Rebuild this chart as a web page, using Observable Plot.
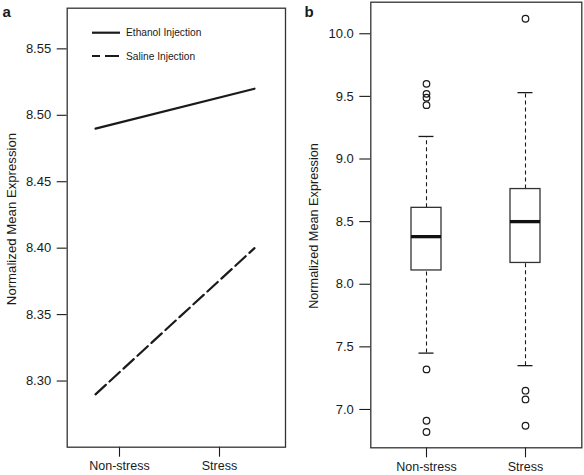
<!DOCTYPE html>
<html><head><meta charset="utf-8">
<script src="https://cdn.jsdelivr.net/npm/d3@7"></script>
<script src="https://cdn.jsdelivr.net/npm/@observablehq/plot@0.6"></script>
<style>
body{margin:0;background:#fff;}
#wrap{position:relative;width:584px;height:475px;display:flex;}
#wrap > svg{display:block;flex:none;}
.overlay{position:absolute;left:0;top:0;pointer-events:none;}
</style>
</head><body><div id="wrap"></div>
<script>
// ---- data ----
const categories = ["Non-stress", "Stress"];
const seriesNames = ["Ethanol Injection", "Saline Injection"];
const ethanolMeans = [8.49, 8.52];
const salineMeans = [8.29, 8.40];
const linePositions = [0.76, 2.35];   // x positions of line end points (category index units)
const categoryPositions = [1, 2];
const yTicksA = [8.30, 8.35, 8.40, 8.45, 8.50, 8.55];
const yTicksB = [7.0, 7.5, 8.0, 8.5, 9.0, 9.5, 10.0];
const boxLowWhisker = [7.45, 7.35];
const boxQ1 = [8.11, 8.17];
const boxMedian = [8.38, 8.50];
const boxQ3 = [8.61, 8.76];
const boxHighWhisker = [9.18, 9.53];
const outliersNonStress = [9.60, 9.52, 9.49, 9.43, 7.32, 6.91, 6.82];
const outliersStress = [10.12, 7.15, 7.08, 6.87];
const yLabel = "Normalized Mean Expression";
const panelLabels = ["a", "b"];

// ---- derived tables ----
const lineData = [
  ...linePositions.map((x, i) => ({series: seriesNames[0], x, y: ethanolMeans[i]})),
  ...linePositions.map((x, i) => ({series: seriesNames[1], x, y: salineMeans[i]}))
];
const boxes = categories.map((c, i) => ({
  cat: c, lo: boxLowWhisker[i], q1: boxQ1[i], med: boxMedian[i], q3: boxQ3[i], hi: boxHighWhisker[i]
}));
const outliers = [
  ...outliersNonStress.map(v => ({cat: categories[0], y: v})),
  ...outliersStress.map(v => ({cat: categories[1], y: v}))
];

const FONT = "'Liberation Sans', Arial, Helvetica, sans-serif";
const INK = "#1a1a1a";

// ---- panel a ----
const plotA = Plot.plot({
  width: 292, height: 475,
  marginLeft: 66.7, marginRight: 7, marginTop: 7.7, marginBottom: 28.3,
  style: {fontFamily: FONT, color: INK, background: "white", overflow: "visible"},
  x: {type: "linear", domain: [0.477, 2.66]},
  y: {domain: [8.2502, 8.5806]},
  marks: [
    Plot.axisY({ticks: yTicksA, tickFormat: d3.format(".2f"), tickSize: 10, tickPadding: 6, label: null, fontSize: 13, strokeWidth: 1.1}),
    Plot.axisX({ticks: categoryPositions, tickFormat: d => categories[d - 1], tickSize: 10, tickPadding: 4, label: null, fontSize: 12.5, strokeWidth: 1.1}),
    Plot.line(lineData.filter(d => d.series === seriesNames[0]), {x: "x", y: "y", stroke: INK, strokeWidth: 2.2}),
    Plot.line(lineData.filter(d => d.series === seriesNames[1]), {x: "x", y: "y", stroke: INK, strokeWidth: 2.2, strokeDasharray: "14,5"}),
    Plot.frame({stroke: "#333", strokeWidth: 1.3})
  ]
});

// ---- panel b ----
const plotB = Plot.plot({
  width: 292, height: 475,
  marginLeft: 78.3, marginRight: 2.7, marginTop: 1.7, marginBottom: 27.7,
  style: {fontFamily: FONT, color: INK, background: "white", overflow: "visible"},
  x: {type: "band", domain: categories, paddingInner: 0.7, paddingOuter: 0.405, align: 0.5},
  y: {domain: [6.694, 10.252]},
  marks: [
    Plot.axisY({ticks: yTicksB, tickFormat: d3.format(".1f"), tickSize: 11, tickPadding: 6, label: null, fontSize: 13, strokeWidth: 1.1}),
    Plot.axisX({tickSize: 10, tickPadding: 4, label: null, fontSize: 12.5, strokeWidth: 1.1}),
    Plot.ruleX(boxes, {x: "cat", y1: "q3", y2: "hi", stroke: INK, strokeWidth: 1.1, strokeDasharray: "4,3"}),
    Plot.ruleX(boxes, {x: "cat", y1: "lo", y2: "q1", stroke: INK, strokeWidth: 1.1, strokeDasharray: "4,3"}),
    Plot.tickY(boxes, {x: "cat", y: "hi", stroke: INK, strokeWidth: 1.3, insetLeft: 7.5, insetRight: 7.5}),
    Plot.tickY(boxes, {x: "cat", y: "lo", stroke: INK, strokeWidth: 1.3, insetLeft: 7.5, insetRight: 7.5}),
    Plot.barY(boxes, {x: "cat", y1: "q1", y2: "q3", fill: "white", stroke: "#333", strokeWidth: 1.3, inset: 0}),
    Plot.tickY(boxes, {x: "cat", y: "med", stroke: "#111", strokeWidth: 3.3}),
    Plot.dot(outliers, {x: "cat", y: "y", r: 3.3, stroke: INK, strokeWidth: 1.2, fill: "none"}),
    Plot.frame({stroke: "#333", strokeWidth: 1.3})
  ]
});

const wrap = document.getElementById("wrap");
wrap.appendChild(plotA);
wrap.appendChild(plotB);

// ---- overlay: panel letters, y-axis titles, legend ----
const ov = d3.select(wrap).append("svg")
  .attr("class", "overlay").attr("width", 584).attr("height", 475)
  .style("font-family", FONT).attr("fill", INK);

ov.append("text").attr("x", 2.5).attr("y", 17).attr("font-size", 15).attr("font-weight", "bold").text(panelLabels[0]);
ov.append("text").attr("x", 304.5).attr("y", 17.3).attr("font-size", 15).attr("font-weight", "bold").text(panelLabels[1]);

ov.append("text").attr("transform", "translate(16,219) rotate(-90)").attr("text-anchor", "middle")
  .attr("font-size", 13.2).text(yLabel);
ov.append("text").attr("transform", "translate(318,226) rotate(-90)").attr("text-anchor", "middle")
  .attr("font-size", 12.7).text(yLabel);

const leg = ov.append("g");
leg.append("line").attr("x1", 92).attr("x2", 120).attr("y1", 32.7).attr("y2", 32.7)
  .attr("stroke", INK).attr("stroke-width", 2.2);
leg.append("text").attr("x", 126).attr("y", 36.4).attr("font-size", 10.2).text(seriesNames[0]);
leg.append("line").attr("x1", 92).attr("x2", 119).attr("y1", 56).attr("y2", 56)
  .attr("stroke", INK).attr("stroke-width", 2.2).attr("stroke-dasharray", "14,5").attr("stroke-dashoffset", 6);
leg.append("text").attr("x", 126).attr("y", 59.7).attr("font-size", 10.2).text(seriesNames[1]);
</script>
</body></html>
